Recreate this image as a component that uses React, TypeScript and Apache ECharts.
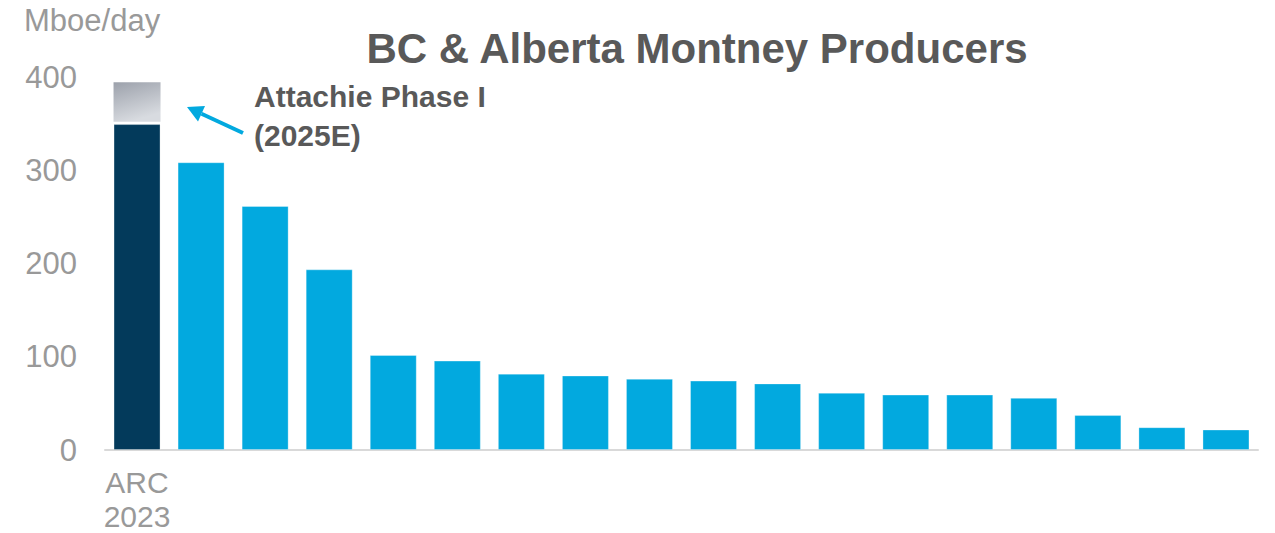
import React, { useEffect, useRef } from "react";
import * as echarts from "echarts";

const categories = ["ARC\n2023", "", "", "", "", "", "", "", "", "", "", "", "", "", "", "", "", ""];
const production = [350, 309, 262, 194, 102, 96, 82, 80, 76.5, 74.5, 71.5, 61.5, 59.5, 59.5, 56, 37.5, 24.5, 22];
const attachieGap = [2.5];
const attachieAdd = [42.5];
const yTicks = { min: 0, max: 400, interval: 100 };

const FONT = "'Liberation Sans', Arial, sans-serif";
const CYAN = "#02a9df";
const NAVY = "#033a5b";

export default function App() {
  const ref = useRef<HTMLDivElement>(null);
  useEffect(() => {
    if (!ref.current) return;
    const chart = echarts.init(ref.current, undefined, { renderer: "svg" });
    const pad = (arr: number[]) => categories.map((_, i) => (i < arr.length ? arr[i] : "-"));
    chart.setOption({
      animation: false,
      backgroundColor: "#ffffff",
      grid: { left: 105, right: 17, top: 77.5, bottom: 81.5, containLabel: false },
      xAxis: {
        type: "category",
        data: categories,
        axisLine: { show: true, lineStyle: { color: "#d9d9d9", width: 2 } },
        axisTick: { show: false },
        axisLabel: {
          interval: 0,
          margin: 15,
          fontSize: 30,
          lineHeight: 34,
          color: "#999999",
          fontFamily: FONT,
        },
      },
      yAxis: {
        type: "value",
        min: yTicks.min,
        max: yTicks.max,
        interval: yTicks.interval,
        axisLine: { show: false },
        axisTick: { show: false },
        splitLine: { show: false },
        axisLabel: { fontSize: 31, color: "#999999", margin: 28, fontFamily: FONT },
      },
      series: [
        {
          name: "Production 2023",
          type: "bar",
          stack: "total",
          barWidth: 47,
          data: production.map((v, i) => ({
            value: v,
            itemStyle: { color: i === 0 ? NAVY : CYAN },
          })),
          itemStyle: { borderColor: "rgba(255,255,255,0.3)", borderWidth: 1 },
        },
        {
          name: "gap",
          type: "bar",
          stack: "total",
          barWidth: 47,
          data: pad(attachieGap),
          itemStyle: { color: "rgba(0,0,0,0)" },
          silent: true,
        },
        {
          name: "Attachie Phase I",
          type: "bar",
          stack: "total",
          barWidth: 47,
          data: pad(attachieAdd),
          itemStyle: {
            color: new echarts.graphic.LinearGradient(0, 0, 0.35, 1, [
              { offset: 0, color: "#9ca1ab" },
              { offset: 1, color: "#d8dbe0" },
            ]),
          },
        },
      ],
      graphic: [
        {
          type: "text",
          left: 24,
          top: 5,
          style: { text: "Mboe/day", fontSize: 31, fill: "#999999", fontFamily: FONT },
        },
        {
          type: "text",
          x: 697,
          y: 48,
          style: {
            text: "BC & Alberta Montney Producers",
            fontSize: 42,
            fontWeight: "bold",
            fill: "#595959",
            fontFamily: FONT,
            textAlign: "center",
            textVerticalAlign: "middle",
          },
        },
        {
          type: "text",
          left: 254,
          top: 77,
          style: {
            text: "Attachie Phase I\n(2025E)",
            fontSize: 30,
            lineHeight: 39,
            fontWeight: "bold",
            fill: "#595959",
            fontFamily: FONT,
          },
        },
        {
          type: "line",
          shape: { x1: 243, y1: 133, x2: 201.5, y2: 113.7 },
          style: { stroke: "#02a9df", lineWidth: 4 },
        },
        {
          type: "polygon",
          shape: { points: [[187, 107], [205, 106], [198, 121.5]] },
          style: { fill: "#02a9df" },
        },
      ],
    });
    return () => chart.dispose();
  }, []);
  return (
    <div
      ref={ref}
      style={{ position: "absolute", left: 0, top: 0, width: 1275, height: 533 }}
    />
  );
}
